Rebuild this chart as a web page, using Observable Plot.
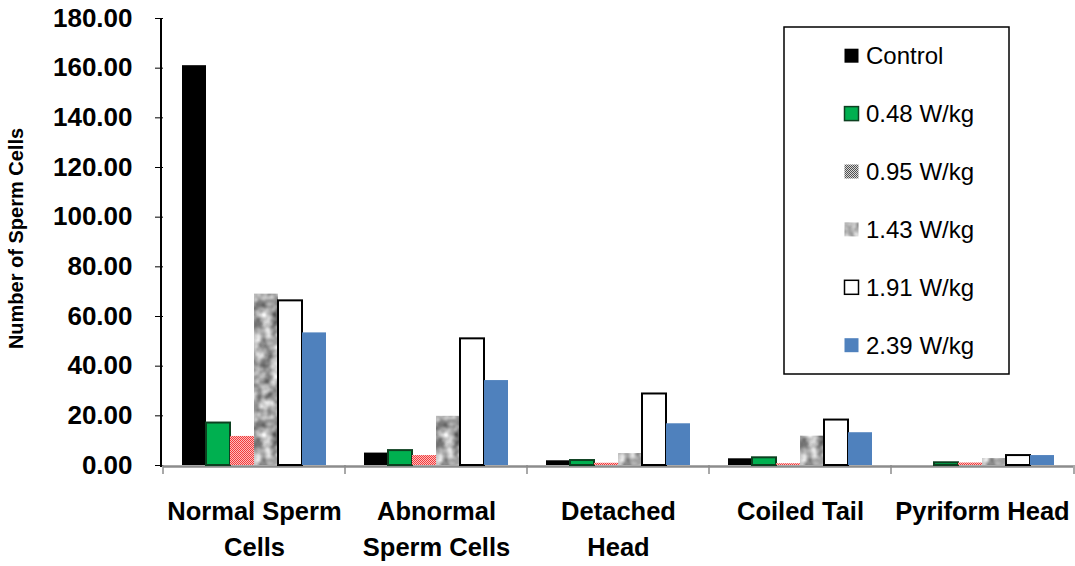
<!DOCTYPE html>
<html><head><meta charset="utf-8">
<script src="https://cdn.jsdelivr.net/npm/d3@7"></script>
<script src="https://cdn.jsdelivr.net/npm/@observablehq/plot@0.6"></script>
<style>body{margin:0;background:#fff} #chart svg{display:block;overflow:hidden}</style>
</head><body><div id="chart"></div>
<script>
const categories = ["Normal Sperm Cells", "Abnormal Sperm Cells", "Detached Head", "Coiled Tail", "Pyriform Head"];
const categoryLabels = ["Normal Sperm\nCells", "Abnormal\nSperm Cells", "Detached\nHead", "Coiled Tail", "Pyriform Head"];
const series = ["Control", "0.48 W/kg", "0.95 W/kg", "1.43 W/kg", "1.91 W/kg", "2.39 W/kg"];
const control = [161.0, 5.0, 1.9, 2.7, 0.0];
const w048 = [17.1, 6.0, 2.0, 3.1, 1.1];
const w095 = [11.7, 4.0, 0.9, 0.7, 1.0];
const w143 = [69.0, 19.8, 4.8, 11.8, 2.8];
const w191 = [66.3, 51.0, 28.8, 18.3, 4.0];
const w239 = [53.4, 34.2, 16.8, 13.2, 4.0];
const yTicks = [0, 20, 40, 60, 80, 100, 120, 140, 160, 180];
const yTitle = "Number of Sperm Cells";

const seriesValues = [control, w048, w095, w143, w191, w239];
const barFills = ["#000000", "#00b050", "url(#redcheck)", "url(#mottle)", "#ffffff", "#4f81bd"];
const barStrokes = ["none", "#0d4020", "none", "none", "#000000", "none"];
const legendFills = ["#000000", "#00b050", "url(#graycheck)", "url(#mottle)", "#ffffff", "#4f81bd"];
const legendStrokes = ["none", "#0d4020", "none", "none", "#000000", "none"];

const rows = [];
series.forEach((s, i) => categories.forEach((c, j) => rows.push({series: s, category: c, value: seriesValues[i][j]})));
const labelRows = categories.map((c, j) => ({category: c, label: categoryLabels[j]}));

const FONT = "'Liberation Sans', Arial, sans-serif";

const chart = Plot.plot({
  width: 1075,
  height: 566,
  marginLeft: 161,
  marginRight: 1,
  marginTop: 18,
  marginBottom: 101,
  style: {fontFamily: FONT, fontSize: "26px", fontWeight: "bold", color: "#000", background: "#fff", overflow: "hidden"},
  fx: {domain: categories, padding: 0, axis: null, label: null},
  x: {domain: series, paddingInner: 0, paddingOuter: 0.78, axis: null, label: null},
  y: {domain: [0, 180], ticks: yTicks, tickFormat: d => d.toFixed(2), tickSize: 8, tickPadding: 23, label: null},
  marks: [
    Plot.ruleY([0], {stroke: "#8c8c8c", strokeWidth: 2.5, dy: 1}),
    ...series.map((s, i) => Plot.barY(rows.filter(r => r.series === s), {
      fx: "category", x: "series", y: "value",
      fill: barFills[i], stroke: barStrokes[i], strokeWidth: 2, insetLeft: 0, insetRight: 0
    })),
    Plot.text(labelRows, {fx: "category", text: "label", frameAnchor: "bottom", lineAnchor: "top", dy: 30,
      fontSize: 25.5, fontWeight: "bold", lineHeight: 1.38, fill: "#000"})
  ]
});
document.getElementById("chart").appendChild(chart);

const svg = d3.select(chart);
const defs = svg.insert("defs", ":first-child");
// red checker
const rc = defs.append("pattern").attr("id", "redcheck").attr("patternUnits", "userSpaceOnUse").attr("width", 2).attr("height", 2);
rc.append("rect").attr("width", 2).attr("height", 2).attr("fill", "#ffbcbc");
rc.append("rect").attr("width", 1).attr("height", 1).attr("fill", "#f03c3c");
rc.append("rect").attr("x", 1).attr("y", 1).attr("width", 1).attr("height", 1).attr("fill", "#f03c3c");
// gray checker
const gc = defs.append("pattern").attr("id", "graycheck").attr("patternUnits", "userSpaceOnUse").attr("width", 2).attr("height", 2);
gc.append("rect").attr("width", 2).attr("height", 2).attr("fill", "#d8d8d8");
gc.append("rect").attr("width", 1).attr("height", 1).attr("fill", "#505050");
gc.append("rect").attr("x", 1).attr("y", 1).attr("width", 1).attr("height", 1).attr("fill", "#505050");
// mottled gray texture
const flt = defs.append("filter").attr("id", "mottleFilter").attr("x", 0).attr("y", 0).attr("width", 1).attr("height", 1)
  .attr("color-interpolation-filters", "sRGB");
flt.append("feTurbulence").attr("type", "fractalNoise").attr("baseFrequency", 0.1).attr("numOctaves", 2)
  .attr("seed", 4).attr("stitchTiles", "stitch");
flt.append("feColorMatrix").attr("type", "matrix")
  .attr("values", "0.9 0 0 0 0.2  0.9 0 0 0 0.2  0.9 0 0 0 0.2  0 0 0 0 1");
const mp = defs.append("pattern").attr("id", "mottle").attr("patternUnits", "userSpaceOnUse").attr("width", 120).attr("height", 120);
mp.append("rect").attr("width", 120).attr("height", 120).attr("filter", "url(#mottleFilter)");

// axis lines and group ticks from the library's scales
const fxs = chart.scale("fx");
const ys = chart.scale("y");
const x0 = fxs.range[0];
const yBase = ys.apply(0);
svg.append("line").attr("x1", x0).attr("x2", x0).attr("y1", ys.apply(180)).attr("y2", yBase + 2)
  .attr("stroke", "#000").attr("stroke-width", 2);
const edges = categories.map(c => fxs.apply(c)).concat([fxs.range[1]]);
svg.append("g").selectAll("line").data(edges).join("line")
  .attr("x1", d => d).attr("x2", d => d).attr("y1", yBase).attr("y2", yBase + 9)
  .attr("stroke", "#8c8c8c").attr("stroke-width", 1.5);

// y title
svg.append("text").attr("transform", `translate(18,${(ys.apply(0) + ys.apply(180)) / 2 - 3}) rotate(-90)`)
  .attr("text-anchor", "middle").attr("dominant-baseline", "middle")
  .attr("font-family", FONT).attr("font-size", 20).attr("font-weight", "bold").attr("fill", "#000").text(yTitle);

// legend
const lg = svg.append("g").attr("font-family", FONT).attr("font-weight", "normal").attr("font-size", 24).attr("text-anchor", "start");
lg.append("rect").attr("x", 784).attr("y", 27).attr("width", 225).attr("height", 347)
  .attr("fill", "#fff").attr("stroke", "#000").attr("stroke-width", 1.5);
series.forEach((s, i) => {
  const cy = 55.7 + i * 57.9;
  lg.append("rect").attr("x", 844.5).attr("y", cy - 7).attr("width", 14).attr("height", 14)
    .attr("fill", legendFills[i]).attr("stroke", legendStrokes[i]).attr("stroke-width", 1.5);
  lg.append("text").attr("x", 866).attr("y", cy).attr("dy", "0.36em").attr("text-anchor", "start").attr("fill", "#000").text(s);
});
</script>
</body></html>
